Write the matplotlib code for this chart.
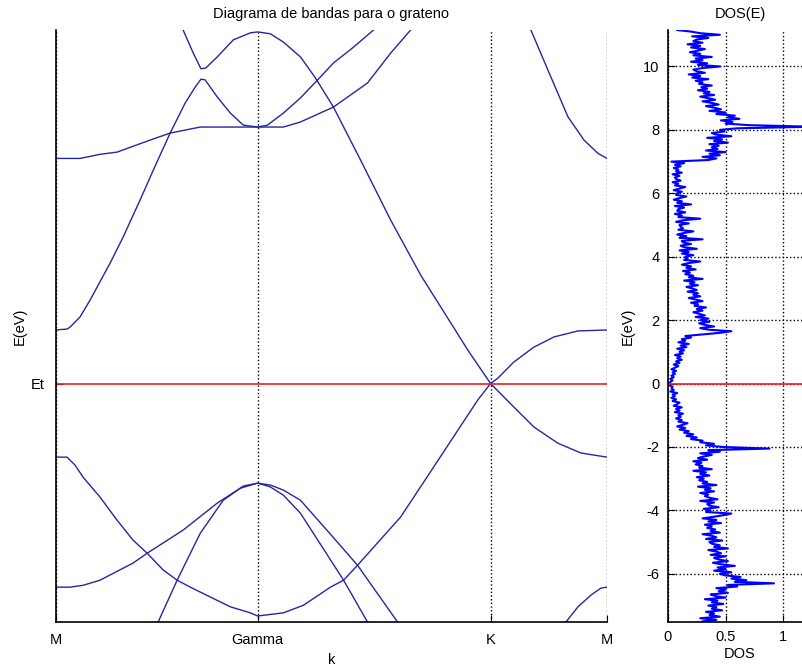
import numpy as np
import matplotlib.pyplot as plt

plt.rcParams['font.family'] = ['Liberation Sans', 'DejaVu Sans']
plt.rcParams['axes.unicode_minus'] = False

# path M - Gamma - K - M, distances in 1/Angstrom
k_ticks = [0.0, 1.475, 3.178, 4.029]
k_labels = ['M', 'Gamma', 'K', 'M']

E_min, E_max = -7.52, 11.15

# bands along the path, (k, E) in eV
band1_k = [0.0, 0.176, 0.322, 0.447, 0.689, 0.835, 1.055, 1.475, 1.663, 1.788, 2.029, 2.278, 2.447, 2.593, 2.63]
band1_E = [7.10, 7.10, 7.23, 7.30, 7.68, 7.90, 8.09, 8.09, 8.09, 8.25, 8.72, 9.48, 10.42, 11.15, 11.35]

band2_k = [0.0, 0.081, 0.103, 0.176, 0.249, 0.396, 0.491, 0.615, 0.725, 0.835, 0.945, 1.018, 1.060, 1.090,
           1.179, 1.275, 1.370, 1.475, 1.546, 1.663, 1.788, 1.912, 2.029, 2.176, 2.322, 2.374]
band2_E = [1.69, 1.72, 1.78, 2.10, 2.63, 3.80, 4.62, 5.79, 6.86, 7.90, 8.85, 9.35, 9.60, 9.58,
           9.04, 8.53, 8.15, 8.09, 8.15, 8.53, 9.01, 9.57, 10.11, 10.61, 11.15, 11.37]

band3_k = [0.894, 0.930, 1.004, 1.060, 1.095, 1.179, 1.297, 1.421, 1.475, 1.568, 1.663, 1.788, 1.897, 2.029,
           2.227, 2.447, 2.667, 2.864, 3.011, 3.178, 3.348, 3.495, 3.670, 3.839, 4.029]
band3_E = [11.47, 11.15, 10.42, 9.93, 9.95, 10.30, 10.84, 11.06, 11.09, 11.03, 10.77, 10.30, 9.64, 8.72,
           7.05, 5.16, 3.42, 2.07, 1.06, 0.0, -0.74, -1.37, -1.88, -2.19, -2.32]

band4_k = [0.0, 0.081, 0.139, 0.198, 0.322, 0.447, 0.564, 0.667, 0.784, 0.886, 0.982, 1.128, 1.275, 1.421, 1.475,
           1.663, 1.810, 2.007, 2.103, 2.205, 2.520, 2.762, 3.084, 3.178, 3.231, 3.348, 3.495, 3.641, 3.817, 4.029]
band4_E = [-2.32, -2.32, -2.57, -2.95, -3.58, -4.31, -4.94, -5.35, -5.88, -6.20, -6.42, -6.73, -7.04, -7.23, -7.33,
           -7.23, -6.99, -6.42, -6.20, -5.73, -4.21, -2.63, -0.52, 0.0, 0.17, 0.68, 1.15, 1.47, 1.66, 1.69]

band5_k = [0.0, 0.103, 0.200, 0.322, 0.564, 0.667, 0.930, 1.179, 1.348, 1.475, 1.568, 1.663, 1.788, 2.007, 2.205, 2.498, 2.535]
band5_E = [-6.42, -6.42, -6.36, -6.20, -5.66, -5.35, -4.62, -3.77, -3.30, -3.14, -3.20, -3.36, -3.68, -4.75, -5.73, -7.52, -7.78]

band6_k = [0.718, 0.747, 0.886, 1.055, 1.223, 1.370, 1.475, 1.568, 1.663, 1.788, 2.103, 2.278, 2.315]
band6_E = [-7.78, -7.52, -6.20, -4.72, -3.68, -3.23, -3.14, -3.26, -3.52, -4.09, -6.20, -7.52, -7.78]

band7_k = [3.443, 3.473, 3.597, 3.744, 3.861, 3.963, 4.029]
band7_E = [11.40, 11.15, 9.89, 8.41, 7.68, 7.26, 7.10]

band8_k = [3.70, 3.729, 3.817, 3.912, 3.985, 4.029]
band8_E = [-7.78, -7.52, -7.04, -6.67, -6.45, -6.42]

bands = [(band1_k, band1_E), (band2_k, band2_E), (band3_k, band3_E), (band4_k, band4_E),
         (band5_k, band5_E), (band6_k, band6_E), (band7_k, band7_E), (band8_k, band8_E)]

# density of states, one value every 0.05 eV from -7.5 eV
dos_E0 = -7.5
dos_dE = 0.05
dos = [
    0.30, 0.42, 0.28, 0.45, 0.36, 0.40, 0.33, 0.47, 0.38, 0.42,   # -7.5
    0.35, 0.48, 0.38, 0.43, 0.32, 0.50, 0.41, 0.37, 0.52, 0.44,   # -7.0
    0.50, 0.42, 0.60, 0.52, 0.92, 0.58, 0.68, 0.55, 0.63, 0.50,   # -6.5
    0.45, 0.55, 0.40, 0.50, 0.43, 0.58, 0.46, 0.39, 0.52, 0.44,   # -6.0
    0.40, 0.50, 0.37, 0.46, 0.42, 0.35, 0.52, 0.40, 0.45, 0.38,   # -5.5
    0.36, 0.47, 0.33, 0.42, 0.38, 0.30, 0.45, 0.37, 0.41, 0.34,   # -5.0
    0.38, 0.32, 0.46, 0.35, 0.42, 0.30, 0.40, 0.48, 0.55, 0.33,   # -4.5
    0.37, 0.31, 0.44, 0.36, 0.34, 0.40, 0.28, 0.43, 0.36, 0.32,   # -4.0
    0.35, 0.28, 0.40, 0.32, 0.37, 0.26, 0.42, 0.30, 0.34, 0.27,   # -3.5
    0.31, 0.25, 0.36, 0.28, 0.33, 0.22, 0.38, 0.27, 0.30, 0.24,   # -3.0
    0.29, 0.22, 0.34, 0.26, 0.31, 0.38, 0.28, 0.45, 0.35, 0.88,   # -2.5
    0.48, 0.33, 0.40, 0.28, 0.30, 0.20, 0.25, 0.16, 0.22, 0.14,   # -2.0
    0.18, 0.10, 0.15, 0.08, 0.13, 0.17, 0.09, 0.12, 0.07, 0.11,   # -1.5
    0.09, 0.13, 0.06, 0.10, 0.07, 0.12, 0.05, 0.08, 0.10, 0.04,   # -1.0
    0.07, 0.03, 0.06, 0.04, 0.08, 0.02, 0.05, 0.03, 0.04, 0.01,   # -0.5
    0.00, 0.02, 0.04, 0.02, 0.05, 0.03, 0.06, 0.04, 0.07, 0.03,   # 0.0
    0.06, 0.09, 0.05, 0.10, 0.07, 0.12, 0.08, 0.11, 0.06, 0.13,   # 0.5
    0.10, 0.14, 0.08, 0.16, 0.11, 0.18, 0.09, 0.15, 0.12, 0.20,   # 1.0
    0.15, 0.30, 0.45, 0.55, 0.35, 0.28, 0.40, 0.32, 0.27, 0.36,   # 1.5
    0.28, 0.35, 0.24, 0.32, 0.27, 0.22, 0.30, 0.25, 0.33, 0.23,   # 2.0
    0.26, 0.20, 0.30, 0.24, 0.18, 0.28, 0.22, 0.26, 0.17, 0.25,   # 2.5
    0.21, 0.16, 0.26, 0.19, 0.23, 0.14, 0.30, 0.18, 0.22, 0.15,   # 3.0
    0.19, 0.13, 0.24, 0.16, 0.20, 0.12, 0.18, 0.28, 0.14, 0.17,   # 3.5
    0.15, 0.22, 0.12, 0.18, 0.10, 0.25, 0.14, 0.11, 0.20, 0.13,   # 4.0
    0.12, 0.30, 0.10, 0.16, 0.08, 0.14, 0.22, 0.09, 0.13, 0.11,   # 4.5
    0.10, 0.18, 0.07, 0.13, 0.28, 0.09, 0.12, 0.06, 0.15, 0.08,   # 5.0
    0.09, 0.14, 0.06, 0.20, 0.08, 0.12, 0.05, 0.10, 0.16, 0.07,   # 5.5
    0.08, 0.12, 0.05, 0.10, 0.15, 0.06, 0.09, 0.04, 0.11, 0.07,   # 6.0
    0.06, 0.10, 0.04, 0.12, 0.07, 0.09, 0.05, 0.11, 0.06, 0.14,   # 6.5
    0.03, 0.35, 0.42, 0.30, 0.45, 0.36, 0.50, 0.33, 0.43, 0.38,   # 7.0
    0.44, 0.36, 0.52, 0.40, 0.47, 0.34, 0.55, 0.42, 0.38, 0.49,   # 7.5
    0.45, 0.60, 1.25, 0.70, 0.50, 0.56, 0.46, 0.62, 0.52, 0.58,   # 8.0
    0.42, 0.50, 0.36, 0.46, 0.40, 0.33, 0.44, 0.38, 0.30, 0.41,   # 8.5
    0.35, 0.28, 0.40, 0.31, 0.36, 0.26, 0.34, 0.29, 0.38, 0.27,   # 9.0
    0.30, 0.24, 0.35, 0.21, 0.28, 0.18, 0.32, 0.25, 0.22, 0.30,   # 9.5
    0.45, 0.26, 0.34, 0.20, 0.30, 0.24, 0.38, 0.22, 0.28, 0.19,   # 10.0
    0.26, 0.32, 0.20, 0.28, 0.17, 0.30, 0.22, 0.25, 0.35, 0.21,   # 10.5
    0.45, 0.28, 0.20, 0.08,                                       # 11.0
]
dos_E = dos_E0 + dos_dE * np.arange(len(dos))

band_color = '#2626a0'
fs = 10.5

fig = plt.figure(figsize=(8.02, 6.70), dpi=100)

# band structure
ax = fig.add_axes([0.0698, 0.0716, 0.687, 0.8836])
for k, E in bands:
    ax.plot(k, E, color=band_color, lw=1.0)
ax.axhline(0, color='#e82020', lw=1.2)
ax.set_xlim(k_ticks[0], k_ticks[-1])
ax.set_ylim(E_min, E_max)
ax.set_xticks(k_ticks, k_labels)
ax.set_yticks([0], ['Et'])
ax.grid(axis='x', linestyle=':', color='k', lw=1.0)
for side in ['top', 'right']:
    ax.spines[side].set_visible(False)
for side in ['left', 'bottom']:
    ax.spines[side].set_linewidth(1.2)
ax.tick_params(direction='in', length=5, labelsize=fs, pad=8)
ax.set_xlabel('k', fontsize=fs, labelpad=4)
ax.set_ylabel('E(eV)', fontsize=fs, labelpad=3)
ax.set_title('Diagrama de bandas para o grateno', fontsize=fs, pad=9)

# density of states
ax2 = fig.add_axes([0.8329, 0.0716, 0.1796, 0.8836])
ax2.plot(dos, dos_E, color='#0000ff', lw=1.5)
ax2.axhline(0, color='#e82020', lw=1.2)
ax2.set_xlim(0, 1.25)
ax2.set_ylim(E_min, E_max)
ax2.set_xticks([0, 0.5, 1])
ax2.set_xticklabels(['0', '0.5', '1'])
ax2.set_yticks(np.arange(-6, 11, 2))
ax2.grid(True, linestyle=':', color='k', lw=1.0)
ax2.set_axisbelow(True)
for side in ['top', 'right']:
    ax2.spines[side].set_visible(False)
for side in ['left', 'bottom']:
    ax2.spines[side].set_linewidth(1.2)
ax2.tick_params(direction='in', length=5, labelsize=fs, pad=6)
ax2.set_xlabel('DOS', fontsize=fs, labelpad=2)
ax2.set_ylabel('E(eV)', fontsize=fs, labelpad=6)
ax2.set_title('DOS(E)', fontsize=fs, pad=9)

fig.savefig('out.png', dpi=100)
